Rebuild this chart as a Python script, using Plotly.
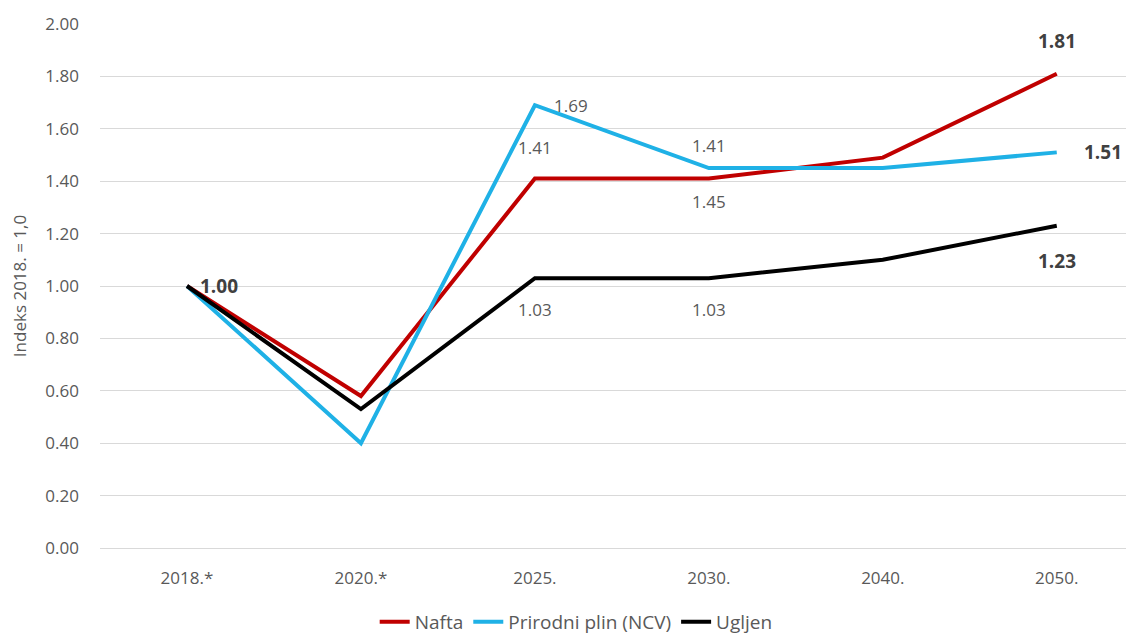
import plotly.graph_objects as go

years = ["2018.*", "2020.*", "2025.", "2030.", "2040.", "2050."]
nafta = [1.00, 0.58, 1.41, 1.41, 1.49, 1.81]
plin = [1.00, 0.40, 1.69, 1.45, 1.45, 1.51]
ugljen = [1.00, 0.53, 1.03, 1.03, 1.10, 1.23]
y_ticks = [0.0, 0.2, 0.4, 0.6, 0.8, 1.0, 1.2, 1.4, 1.6, 1.8, 2.0]

grey = "#595959"
font = "Open Sans, Noto Sans, sans-serif"

fig = go.Figure()
fig.add_trace(go.Scatter(x=years, y=nafta, mode="lines", name="Nafta",
                         line=dict(color="#C00000", width=4)))
fig.add_trace(go.Scatter(x=years, y=plin, mode="lines", name="Prirodni plin (NCV)",
                         line=dict(color="#1FB1E6", width=4)))
fig.add_trace(go.Scatter(x=years, y=ugljen, mode="lines", name="Ugljen",
                         line=dict(color="#000000", width=4)))

# data labels: (series, index, xshift, yshift, bold)
labels = [
    (ugljen, 0, 32, 0, True),
    (nafta, 2, 0, 31, False),
    (plin, 2, 36, 0, False),
    (nafta, 3, 0, 33, False),
    (plin, 3, 0, -33, False),
    (ugljen, 2, 0, -31, False),
    (ugljen, 3, 0, -31, False),
    (nafta, 5, 0, 33, True),
    (plin, 5, 46, 0, True),
    (ugljen, 5, 0, -35, True),
]
for series, i, dx, dy, bold in labels:
    txt = f"{series[i]:.2f}"
    # category index as x (labels like "2025." would be read as numbers)
    fig.add_annotation(x=i, y=series[i], xref="x", yref="y",
                       text=f"<b>{txt}</b>" if bold else txt,
                       showarrow=False, xshift=dx, yshift=dy,
                       font=dict(size=19 if bold else 17, color="#404040" if bold else grey,
                                 family=font))

fig.update_layout(
    width=1134, height=635,
    margin=dict(l=92, r=0, t=16, b=95),
    plot_bgcolor="white", paper_bgcolor="white",
    font=dict(family=font, color=grey, size=17),
    showlegend=True,
    legend=dict(orientation="h", x=0.457, xanchor="center", y=-0.141, yanchor="middle",
                font=dict(size=19, color=grey), tracegroupgap=0),
    xaxis=dict(range=[-0.5, 5.49], showgrid=False, showline=False, zeroline=False,
               automargin=False, ticks="", ticklabelstandoff=18,
               tickfont=dict(size=17, color=grey)),
    yaxis=dict(range=[0, 2.0], tickvals=y_ticks, tickformat=".2f",
               showgrid=True, gridcolor="#D9D9D9", gridwidth=1,
               zeroline=True, zerolinecolor="#D9D9D9", zerolinewidth=1,
               automargin=False, showline=False, ticks="", ticklabelstandoff=20,
               tickfont=dict(size=17, color=grey),
               title=dict(text="Indeks 2018. = 1,0", standoff=14,
                          font=dict(size=17, color=grey))),
)

fig.write_html("out.html")
